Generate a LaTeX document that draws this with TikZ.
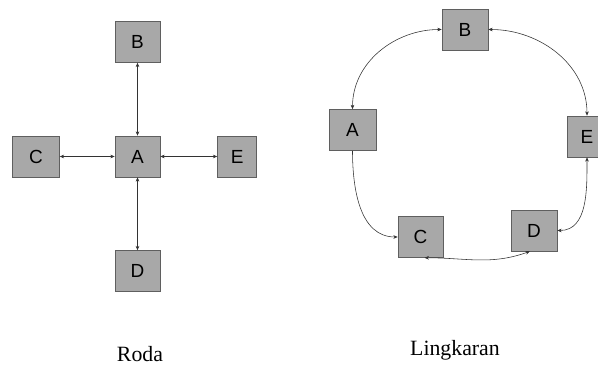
\documentclass[tikz,border=0pt]{standalone}
\usepackage{fontspec}
\setmainfont{Liberation Serif}
\setsansfont{Liberation Sans}
\usepackage{xcolor}
\usetikzlibrary{arrows.meta, positioning}

\definecolor{boxgray}{RGB}{168,168,168}
\definecolor{edgegray}{RGB}{95,95,95}

\begin{document}
\begin{tikzpicture}[
	x=0.025cm, y=-0.025cm,
	box/.style={draw=edgegray, rectangle, minimum width=1.125cm, minimum height=1.025cm, fill=boxgray, inner sep=0pt, font=\sffamily\fontsize{13.5}{14}\selectfont},
	link/.style={{Stealth[length=1.1mm,width=0.9mm]}-{Stealth[length=1.1mm,width=0.9mm]}, thin, black!80},
	onelink/.style={-{Stealth[length=1.1mm,width=0.9mm]}, thin, black!80},
	caption/.style={anchor=base, font=\fontsize{15.5}{18}\selectfont}
]
	\useasboundingbox (0,0) rectangle (598,365);

	% Roda (wheel)
	\node (wA) [box] at (137.5,156.5) {A};
	\node (wB) [box, above=1.825cm of wA] {B};
	\node (wD) [box, below=1.825cm of wA] {D};
	\node (wC) [box, minimum width=1.175cm, left=1.375cm of wA] {C};
	\node (wE) [box, minimum width=0.975cm, right=1.425cm of wA] {E};

	\draw [link] (wA) -- (wB);
	\draw [link] (wA) -- (wD);
	\draw [link] (wC) -- (wA);
	\draw [link] (wA) -- (wE);

	\node (roda) [caption] at (140,362) {Roda};

	% Lingkaran (ring)
	\node (rB) [box, minimum width=1.15cm] at (465,29.5) {B};
	\node (rA) [box, minimum width=1.175cm] at (352.5,130) {A};
	\node (rE) [box, minimum width=1.0cm] at (587,136.5) {E};
	\node (rC) [box] at (420.5,237) {C};
	\node (rD) [box, minimum width=1.15cm] at (534,230.5) {D};

	\draw [link] (rB.west) to[out=180, in=90] (rA.north);
	\draw [link] (rB.east) to[out=0, in=90] (rE.north);
	\draw [link] (rE.south) to[out=270, in=0] (rD.east);
	\draw [onelink] (rA.south) to[out=270, in=180] (rC.west);
	\draw [link] ([xshift=0.1cm]rC.south) to[out=0, in=200] ([xshift=-0.1cm]rD.south);

	\node (ring) [caption] at (455,356) {Lingkaran};

\end{tikzpicture}
\end{document}
